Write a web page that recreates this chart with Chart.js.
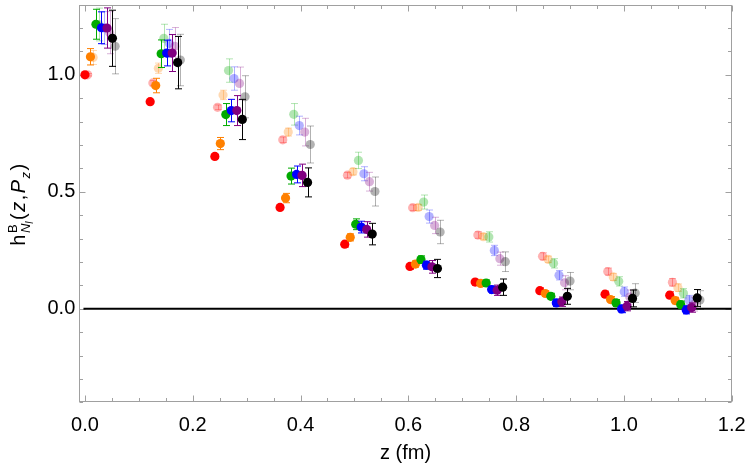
<!DOCTYPE html>
<html>
<head>
<meta charset="utf-8">
<script src="https://cdn.jsdelivr.net/npm/chart.js@4"></script>
<style>
  html, body { margin: 0; padding: 0; background: #fff; }
  #wrap { width: 747px; height: 466px; }
</style>
</head>
<body>
<div id="wrap"><canvas id="hChart" width="747" height="466"></canvas></div>
<script>
// z positions of the clusters (fm)
const zValues = [0, 0.121, 0.241, 0.362, 0.482, 0.603, 0.724, 0.844, 0.965, 1.085];

// solid series
const redVals    = [1.000, 0.885, 0.651, 0.433, 0.276, 0.181, 0.114, 0.077, 0.062, 0.058];
const redErr     = [0.004, 0.006, 0.007, 0.009, 0.012, 0.012, 0.011, 0.012, 0.013, 0.014];
const orangeVals = [1.077, 0.954, 0.706, 0.473, 0.305, 0.191, 0.108, 0.065, 0.039, 0.035];
const orangeErr  = [0.035, 0.031, 0.026, 0.020, 0.015, 0.013, 0.012, 0.012, 0.013, 0.014];
const greenVals  = [1.216, 1.090, 0.830, 0.567, 0.361, 0.210, 0.110, 0.053, 0.025, 0.018];
const greenErr   = [0.064, 0.059, 0.047, 0.034, 0.023, 0.016, 0.013, 0.013, 0.014, 0.015];
const blueVals   = [1.201, 1.093, 0.847, 0.574, 0.349, 0.186, 0.082, 0.025, -0.001, -0.005];
const blueErr    = [0.068, 0.055, 0.048, 0.036, 0.025, 0.017, 0.015, 0.015, 0.016, 0.017];
const purpleVals = [1.200, 1.093, 0.847, 0.570, 0.339, 0.179, 0.079, 0.030, 0.011, 0.005];
const purpleErr  = [0.086, 0.079, 0.064, 0.048, 0.033, 0.027, 0.022, 0.020, 0.020, 0.020];
const blackVals  = [1.156, 1.052, 0.809, 0.540, 0.319, 0.172, 0.092, 0.053, 0.044, 0.046];
const blackErr   = [0.120, 0.112, 0.086, 0.062, 0.046, 0.039, 0.035, 0.034, 0.036, 0.036];

// faded series
const lightRedVals    = [1.000, 0.965, 0.861, 0.722, 0.571, 0.432, 0.315, 0.224, 0.159, 0.113];
const lightRedErr     = [0.005, 0.010, 0.010, 0.012, 0.012, 0.012, 0.014, 0.015, 0.015, 0.016];
const lightOrangeVals = [1.074, 1.028, 0.914, 0.755, 0.586, 0.433, 0.308, 0.211, 0.136, 0.090];
const lightOrangeErr  = [0.030, 0.022, 0.020, 0.017, 0.014, 0.013, 0.013, 0.014, 0.015, 0.016];
const lightGreenVals  = [1.215, 1.156, 1.018, 0.831, 0.634, 0.456, 0.307, 0.194, 0.117, 0.066];
const lightGreenErr   = [0.070, 0.060, 0.050, 0.046, 0.035, 0.030, 0.022, 0.020, 0.020, 0.020];
const lightBlueVals   = [1.200, 1.134, 0.984, 0.783, 0.577, 0.394, 0.249, 0.143, 0.073, 0.037];
const lightBlueErr    = [0.070, 0.060, 0.050, 0.040, 0.030, 0.028, 0.022, 0.020, 0.020, 0.020];
const lightPurpleVals = [1.180, 1.122, 0.963, 0.755, 0.543, 0.356, 0.214, 0.111, 0.050, 0.020];
const lightPurpleErr  = [0.090, 0.080, 0.070, 0.059, 0.040, 0.035, 0.028, 0.030, 0.030, 0.030];
const grayVals        = [1.122, 1.063, 0.906, 0.702, 0.501, 0.328, 0.201, 0.118, 0.067, 0.037];
const grayErr         = [0.118, 0.110, 0.090, 0.079, 0.062, 0.050, 0.042, 0.037, 0.040, 0.040];

// x shift of each series inside a cluster (fm)
const solidShift = [0, 0.0102, 0.0204, 0.0306, 0.0408, 0.051];
const fadedShift = [0.005, 0.0152, 0.0254, 0.0356, 0.0458, 0.056];

const xTickValues = [0, 0.2, 0.4, 0.6, 0.8, 1.0, 1.2];
const yTickValues = [0, 0.5, 1.0];

const FONT = '"Liberation Sans", Arial, sans-serif';
const baseColors = [[255, 0, 0], [255, 128, 0], [0, 170, 0], [0, 0, 255], [128, 0, 128], [0, 0, 0]];

const solidSets = [
  [redVals, redErr], [orangeVals, orangeErr], [greenVals, greenErr],
  [blueVals, blueErr], [purpleVals, purpleErr], [blackVals, blackErr]
];
const fadedSets = [
  [lightRedVals, lightRedErr], [lightOrangeVals, lightOrangeErr], [lightGreenVals, lightGreenErr],
  [lightBlueVals, lightBlueErr], [lightPurpleVals, lightPurpleErr], [grayVals, grayErr]
];

function makeDataset(vals, errs, shift, rgb, alpha, drawIndex) {
  const col = `rgba(${rgb[0]},${rgb[1]},${rgb[2]},${alpha})`;
  return {
    data: vals.map((v, i) => ({ x: zValues[i] + shift, y: v })),
    errors: errs,
    barColor: col,
    backgroundColor: col,
    pointRadius: 4.6,
    pointBorderWidth: 0,
    pointHoverRadius: 4.6,
    showLine: false,
    order: -drawIndex
  };
}

const datasets = [];
fadedSets.forEach((s, i) => datasets.push(makeDataset(s[0], s[1], fadedShift[i], baseColors[i], 0.3, datasets.length)));
solidSets.forEach((s, i) => datasets.push(makeDataset(s[0], s[1], solidShift[i], baseColors[i], 1, datasets.length)));

const errorBars = {
  id: 'errorBars',
  beforeDatasetDraw(chart, args) {
    const ds = chart.data.datasets[args.index];
    const y = chart.scales.y;
    const ctx = chart.ctx;
    ctx.save();
    ctx.strokeStyle = ds.barColor;
    ctx.lineWidth = 1;
    args.meta.data.forEach((pt, i) => {
      const v = ds.data[i].y, e = ds.errors[i];
      const px = Math.round(pt.x) + 0.5;
      const top = y.getPixelForValue(v + e), bot = y.getPixelForValue(v - e);
      ctx.beginPath();
      ctx.moveTo(px, top); ctx.lineTo(px, bot);
      ctx.moveTo(px - 3.5, top); ctx.lineTo(px + 3.5, top);
      ctx.moveTo(px - 3.5, bot); ctx.lineTo(px + 3.5, bot);
      ctx.stroke();
    });
    ctx.restore();
  }
};

// frame with inward ticks on all sides, plus the zero line
const frame = {
  id: 'frame',
  beforeDatasetsDraw(chart) {
    const { ctx, chartArea: a, scales: { x, y } } = chart;
    const L = Math.round(a.left) + 0.5, R = Math.round(a.right) - 0.5;
    const T = Math.round(a.top) + 0.5, B = Math.round(a.bottom) - 0.5;
    ctx.save();
    ctx.strokeStyle = '#a0a0a0';
    ctx.lineWidth = 1;
    ctx.strokeRect(L, T, R - L, B - T);
    ctx.beginPath();
    for (let k = 0; k <= 24; k++) {
      const px = Math.round(x.getPixelForValue(k * 0.05)) + 0.5;
      const len = k % 4 === 0 ? 6 : 3.5;
      ctx.moveTo(px, B); ctx.lineTo(px, B - len);
      ctx.moveTo(px, T); ctx.lineTo(px, T + len);
    }
    for (let k = -4; k <= 13; k++) {
      const py = Math.round(y.getPixelForValue(k * 0.1)) + 0.5;
      const len = k % 5 === 0 ? 6 : 3.5;
      ctx.moveTo(L, py); ctx.lineTo(L + len, py);
      ctx.moveTo(R, py); ctx.lineTo(R - len, py);
    }
    ctx.stroke();
    // y = 0 line
    const y0 = y.getPixelForValue(0);
    ctx.strokeStyle = '#000';
    ctx.lineWidth = 2;
    ctx.beginPath();
    ctx.moveTo(x.getPixelForValue(0) - 1.5, y0);
    ctx.lineTo(R, y0);
    ctx.stroke();
    ctx.restore();
  }
};

// y-axis title h^B_{N_l}(z,P_z)
const yTitle = {
  id: 'yTitle',
  afterDraw(chart) {
    const ctx = chart.ctx;
    const main = '20px ' + FONT, mainI = 'italic 20px ' + FONT;
    const small = '13px ' + FONT, smallI = 'italic 13px ' + FONT, tinyI = 'italic 10px ' + FONT;
    const gap = 1.5;
    ctx.save();
    const w = (t, f) => { ctx.font = f; return ctx.measureText(t).width; };
    const wN = w('N', smallI), wl = w('l', tinyI), wB = w('B', small);
    const scriptW = Math.max(wB, wN + wl);
    const seq = [['(', main, 0], ['z', mainI, 0], [',', main, 0], ['P', mainI, 0], ['z', smallI, 5], [')', main, 0]];
    let total = w('h', main) + gap + scriptW + gap;
    seq.forEach(s => { total += w(s[0], s[1]) + gap; });
    ctx.translate(25, 204 + total / 2);
    ctx.rotate(-Math.PI / 2);
    ctx.fillStyle = '#000';
    ctx.textBaseline = 'alphabetic';
    ctx.textAlign = 'left';
    let cx = 0;
    ctx.font = main; ctx.fillText('h', cx, 0); cx += w('h', main) + gap;
    ctx.font = small; ctx.fillText('B', cx, -8);
    ctx.font = smallI; ctx.fillText('N', cx, 5);
    ctx.font = tinyI; ctx.fillText('l', cx + wN, 8);
    cx += scriptW + gap;
    seq.forEach(s => { ctx.font = s[1]; ctx.fillText(s[0], cx, s[2]); cx += w(s[0], s[1]) + gap; });
    ctx.restore();
  }
};

new Chart(document.getElementById('hChart').getContext('2d'), {
  type: 'scatter',
  data: { datasets },
  options: {
    responsive: false,
    animation: false,
    devicePixelRatio: 1,
    layout: { padding: { top: 0, right: 15.3, bottom: 0, left: 0 } },
    plugins: { legend: { display: false }, tooltip: { enabled: false } },
    scales: {
      x: {
        type: 'linear',
        min: -0.0105,
        max: 1.2,
        afterBuildTicks: s => { s.ticks = xTickValues.map(v => ({ value: v })); },
        afterFit: s => { s.height = 63.7; s.paddingLeft = 0; s.paddingRight = 0; },
        grid: { display: false, drawTicks: false },
        border: { display: false },
        ticks: {
          autoSkip: false,
          maxRotation: 0,
          padding: 11,
          color: '#000',
          font: { family: FONT, size: 20 },
          callback: v => v.toFixed(1)
        },
        title: {
          display: true,
          text: 'z (fm)',
          color: '#000',
          font: { family: FONT, size: 20 },
          padding: { top: 0, bottom: 1 }
        }
      },
      y: {
        type: 'linear',
        min: -0.4,
        max: 1.3,
        afterBuildTicks: s => { s.ticks = yTickValues.map(v => ({ value: v })); },
        afterFit: s => { s.width = 79.3; s.paddingTop = 0; s.paddingBottom = 0; },
        grid: { display: false, drawTicks: false },
        border: { display: false },
        ticks: {
          autoSkip: false,
          padding: 4,
          color: '#000',
          font: { family: FONT, size: 20 },
          callback: v => v.toFixed(1)
        }
      }
    }
  },
  plugins: [frame, errorBars, yTitle]
});
</script>
</body>
</html>
